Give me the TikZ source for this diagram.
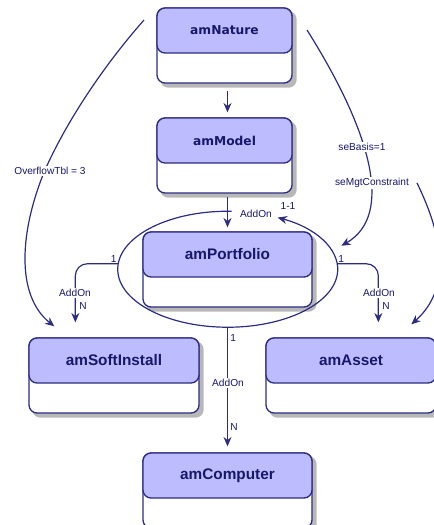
\documentclass[tikz,border=0pt]{standalone}
\usepackage{fontspec}
\setmainfont{Liberation Sans}
\newfontfamily\widesans{DejaVu Sans}
\usetikzlibrary{calc,backgrounds,shapes.geometric,arrows.meta}
\definecolor{linkblue}{HTML}{2C2C82}
\definecolor{headblue}{HTML}{BCBCFF}
\definecolor{textblue}{HTML}{17176C}
\definecolor{shadegrey}{HTML}{9A9A9A}
\tikzset{
  entity/.style={draw=linkblue, line width=1pt, rounded corners=6pt, fill=white,
    minimum height=56.25pt, inner sep=0pt},
  entityhead/.style={draw=linkblue, line width=1pt, rounded corners=6pt, fill=headblue,
    minimum height=33.75pt, inner sep=0pt, anchor=north, text=textblue,
    font=\bfseries\fontsize{11.5}{13}\selectfont},
  entityshade/.style={fill=shadegrey, rounded corners=6pt, opacity=0.7},
  rel/.style={draw=linkblue, line width=0.9pt},
  relarrow/.style={rel, -{Stealth[length=7pt,width=6pt]}},
  tag/.style={text=textblue, font=\fontsize{7.6}{9}\selectfont, inner sep=0.75pt},
}
\begin{document}
\begin{tikzpicture}[x=0.75pt,y=0.75pt,yscale=-1,xscale=1]
\useasboundingbox (0,0) rectangle (434,525);
\clip (0,0) rectangle (434,525);
% tables
\node[entity, minimum width=101.25pt] (nature) at (224.5,45.5) {};
\node[entityhead, minimum width=101.25pt, font=\widesans\bfseries\fontsize{9.2}{11}\selectfont] (nature-h) at (nature.north) {amNature};
\node[entity, minimum width=101.25pt] (model) at (224.5,155.5) {};
\node[entityhead, minimum width=101.25pt, font=\widesans\bfseries\fontsize{9.2}{11}\selectfont] (model-h) at (model.north) {amModel};
\node[entity, minimum width=126.75pt] (port) at (227.5,269.5) {};
\node[entityhead, minimum width=126.75pt] (port-h) at (port.north) {amPortfolio};
\node[entity, minimum width=127.5pt] (soft) at (114,375.5) {};
\node[entityhead, minimum width=127.5pt] (soft-h) at (soft.north) {amSoftInstall};
\node[entity, minimum width=127.5pt] (asset) at (351,375.5) {};
\node[entityhead, minimum width=127.5pt] (asset-h) at (asset.north) {amAsset};
\node[entity, minimum width=126.75pt] (comp) at (227.5,490.5) {};
\node[entityhead, minimum width=126.75pt] (comp-h) at (comp.north) {amComputer};
\begin{scope}[on background layer]
  \foreach \t in {nature,model,port,soft,asset,comp}
    \fill[entityshade] ($(\t.north west)+(4,4)$) rectangle ($(\t.south east)+(4,4)$);
\end{scope}
% self link round amPortfolio
\node[ellipse, draw=none, minimum width=165pt, minimum height=87pt, inner sep=0pt] (loop) at (port.center) {};
\draw[relarrow] (loop.86) arc[start angle=272, end angle=-63, x radius=110, y radius=58];
\node[tag] (loop-add) at (256,214) {AddOn};
\node[tag] (loop-card) at (288,206) {1-1};
% links
\draw[relarrow, shorten <=5.25pt, shorten >=3.75pt] (nature.south -| comp.north) -- (model.north -| comp.north);
\draw[relarrow, shorten <=2.5pt, shorten >=3pt] (model.south -| port.north) -- (port.north);
\draw[relarrow, rounded corners=9pt] (loop.177) -| ($(soft.north west)+(47,-15)$);
\draw[relarrow, rounded corners=9pt] (loop.3) -| ($(asset.north west)+(113,-15)$);
\draw[relarrow, shorten >=4.5pt] (loop.south) -- (comp.north);
\node[tag, anchor=south east] (soft-one) at (loop.177) {1};
\node[tag, fill=white] (soft-add) at (75,293) {AddOn};
\node[tag, anchor=west] (soft-n) at (78,306) {N};
\node[tag, anchor=south west] (asset-one) at (loop.3) {1};
\node[tag, fill=white] (asset-add) at (379,293) {AddOn};
\node[tag, anchor=west] (asset-n) at (381,306) {N};
\node[tag, anchor=west] (comp-one) at (229,338) {1};
\node[tag, fill=white] (comp-add) at (228,383) {AddOn};
\node[tag, anchor=west] (comp-n) at (229,427) {N};
% long links from above
\coordinate (ovf-start) at (144,20);
\coordinate (basis-start) at (307,30);
\coordinate (mgt-start) at (417,183);
\draw[relarrow] (ovf-start) .. controls (100,70) and (65,125) .. (45,170)
  .. controls (20,230) and (15,295) .. ($(soft.north west)+(26,-11)$);
\draw[relarrow, shorten >=8pt] (basis-start) .. controls (370,130) and (395,215) .. (loop.10);
\draw[relarrow] (mgt-start) .. controls (445,240) and (450,290) .. ($(asset.north west)+(146,-13)$);
\node[tag, fill=white] (ovf-tag) at (50,171) {OverflowTbl = 3};
\node[tag, fill=white] (basis-tag) at (362,147) {seBasis=1};
\node[tag, fill=white] (mgt-tag) at (372,183) {seMgtConstraint};
\end{tikzpicture}
\end{document}
